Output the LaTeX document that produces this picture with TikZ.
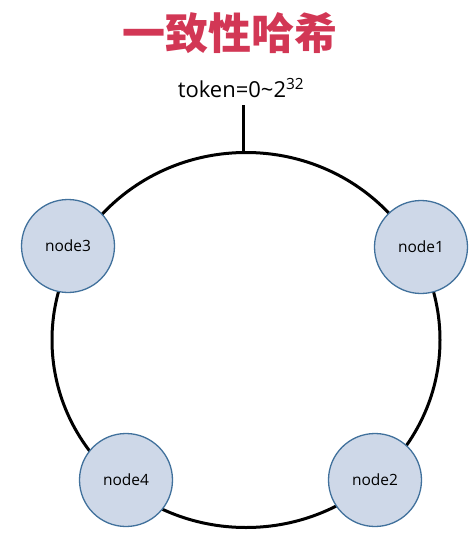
\documentclass[tikz,border=0pt]{standalone}
\usepackage{fontspec}
\setmainfont{Open Sans}
\newfontfamily\cjk{Noto Sans CJK SC}
\definecolor{titlered}{RGB}{210,55,85}
\definecolor{nodefill}{RGB}{206,216,232}
\definecolor{nodeline}{RGB}{65,113,156}
\begin{document}
\begin{tikzpicture}[x=1pt,y=-1pt,
  ring/.style={draw=black,line width=3pt},
  hashnode/.style={circle,draw=nodeline,line width=1.3pt,fill=nodefill,minimum size=93pt,inner sep=0pt,font=\fontsize{15.5}{15.5}\selectfont},
  titletext/.style={text=titlered,font=\cjk\bfseries\fontsize{43}{43}\selectfont},
  tokentext/.style={font=\fontsize{22}{22}\selectfont}]
\useasboundingbox (0,0) rectangle (470,536);
\node[titletext] (title) at (230,33) {一致性哈希};
\node[tokentext,anchor=base] (token) at (241,97) {token=0\textasciitilde2\textsuperscript{32}};
\coordinate (ringtop) at (243,153);
\coordinate (linetop) at (243,105);
\draw[ring] (246,340) ellipse [x radius=194, y radius=187.5];
\draw[line width=3pt] (linetop) -- (ringtop);
\node[hashnode] (n1) at (421,247) {node1};
\node[hashnode] (n2) at (375,480) {node2};
\node[hashnode] (n3) at (68,246) {node3};
\node[hashnode] (n4) at (126,480) {node4};
\end{tikzpicture}
\end{document}
